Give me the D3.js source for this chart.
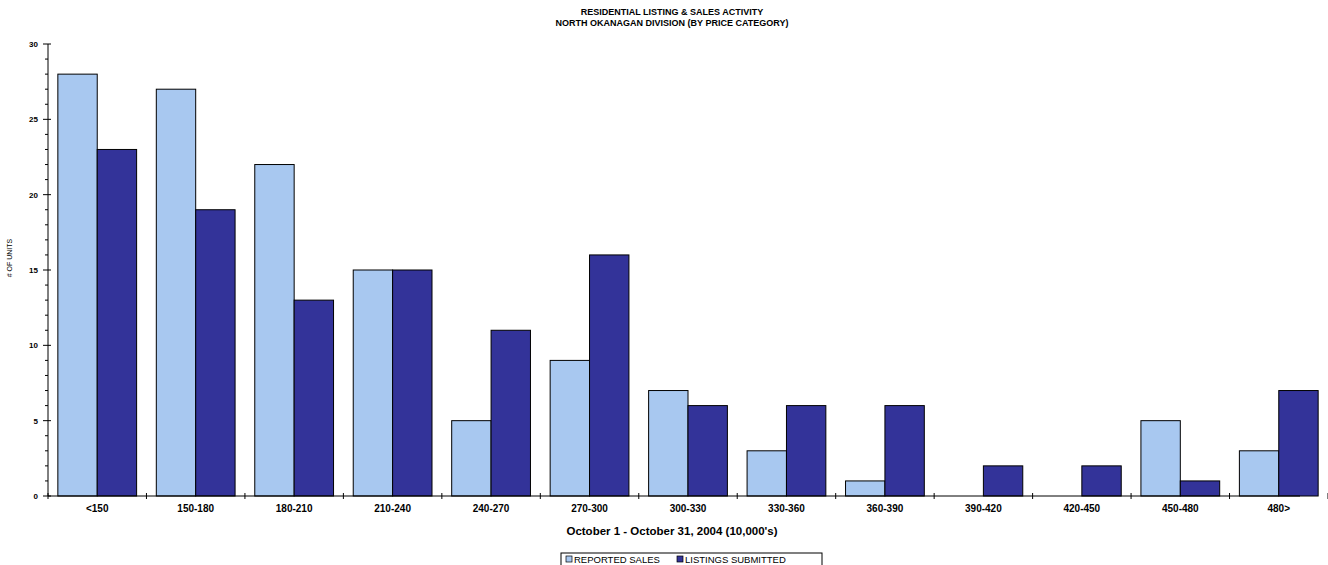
<!DOCTYPE html>
<html><head><meta charset="utf-8">
<script src="https://cdn.jsdelivr.net/npm/d3@7"></script>
<style>body{margin:0;background:#fff}text{font-family:"Liberation Sans",Arial,sans-serif}</style>
</head><body>
<svg id="c" width="1328" height="565"></svg>
<script>
const categories = ['<150','150-180','180-210','210-240','240-270','270-300','300-330','330-360','360-390','390-420','420-450','450-480','480>'];
const reportedSales = [28,27,22,15,5,9,7,3,1,0,0,5,3];
const listingsSubmitted = [23,19,13,15,11,16,6,6,6,2,2,1,7];
const yTicks = [0,5,10,15,20,25,30];

const svg = d3.select('#c');
const pLeft = 48, pRight = 1328, pTop = 44, pBottom = 496;
const x = d3.scaleBand().domain(categories).range([pLeft,pRight]).paddingInner(0.2).paddingOuter(0.1);
const y = d3.scaleLinear().domain([0,30]).range([pBottom,pTop]);
const band = d3.scaleBand().domain([0,1]).range([0,x.bandwidth()]);
const colors = ['#a8c8f0','#333399'];

// bars
categories.forEach((c,i)=>{
    [reportedSales[i],listingsSubmitted[i]].forEach((v,k)=>{
        if(v<=0) return;
        svg.append('rect')
            .attr('x',x(c)+band(k)).attr('y',y(v))
            .attr('width',band.bandwidth()).attr('height',y(0)-y(v))
            .attr('fill',colors[k]).attr('stroke','#000').attr('stroke-width',1);
    });
});

// y axis
const ya = svg.append('g').attr('transform','translate('+pLeft+',0)');
ya.append('line').attr('y1',pTop).attr('y2',pBottom).attr('stroke','#000');
d3.range(0,31).forEach(t=>{
    ya.append('line').attr('x1',t%5==0?-5:-3).attr('x2',t%5==0?3:0)
        .attr('y1',y(t)).attr('y2',y(t)).attr('stroke','#000');
});
ya.selectAll('text.yt').data(yTicks).enter().append('text')
    .attr('x',-10).attr('y',d=>y(d)+3).attr('text-anchor','end')
    .attr('font-size',8).attr('font-weight','bold').text(d=>d);
svg.append('text').attr('transform','translate(12,258) rotate(-90)')
    .attr('text-anchor','middle').attr('font-size',7).text('# OF UNITS');

// x axis
svg.append('line').attr('x1',pLeft).attr('x2',1300).attr('y1',pBottom).attr('y2',pBottom).attr('stroke','#000');
const step = x.step();
d3.range(0,categories.length+1).forEach(i=>{
    const xx = x(categories[0]) - step*x.paddingInner()/2 + i*step;
    svg.append('line').attr('x1',xx).attr('x2',xx)
        .attr('y1',pBottom-3).attr('y2',pBottom+3).attr('stroke','#000');
});
svg.selectAll('text.xt').data(categories).enter().append('text')
    .attr('x',d=>x(d)+x.bandwidth()/2).attr('y',pBottom+16).attr('text-anchor','middle')
    .attr('font-size',10).attr('font-weight','bold').text(d=>d);
svg.append('text').attr('x',672).attr('y',535).attr('text-anchor','middle')
    .attr('font-size',11.5).attr('font-weight','bold').text("October 1 - October 31, 2004 (10,000's)");

// title
svg.append('text').attr('x',672).attr('y',15).attr('text-anchor','middle')
    .attr('font-size',9).attr('font-weight','bold').text('RESIDENTIAL LISTING & SALES ACTIVITY');
svg.append('text').attr('x',672).attr('y',26).attr('text-anchor','middle')
    .attr('font-size',9).attr('font-weight','bold').text('NORTH OKANAGAN DIVISION (BY PRICE CATEGORY)');

// legend
const lg = svg.append('g').attr('transform','translate(561,553)');
lg.append('rect').attr('width',261).attr('height',13).attr('fill','#fff').attr('stroke','#000');
[['REPORTED SALES',5],['LISTINGS SUBMITTED',116]].forEach((d,k)=>{
    lg.append('rect').attr('x',d[1]).attr('y',3).attr('width',6).attr('height',6)
        .attr('fill',colors[k]).attr('stroke','#000').attr('stroke-width',0.7);
    lg.append('text').attr('x',d[1]+8).attr('y',10).attr('font-size',9.5).text(d[0]);
});
</script>
</body></html>
